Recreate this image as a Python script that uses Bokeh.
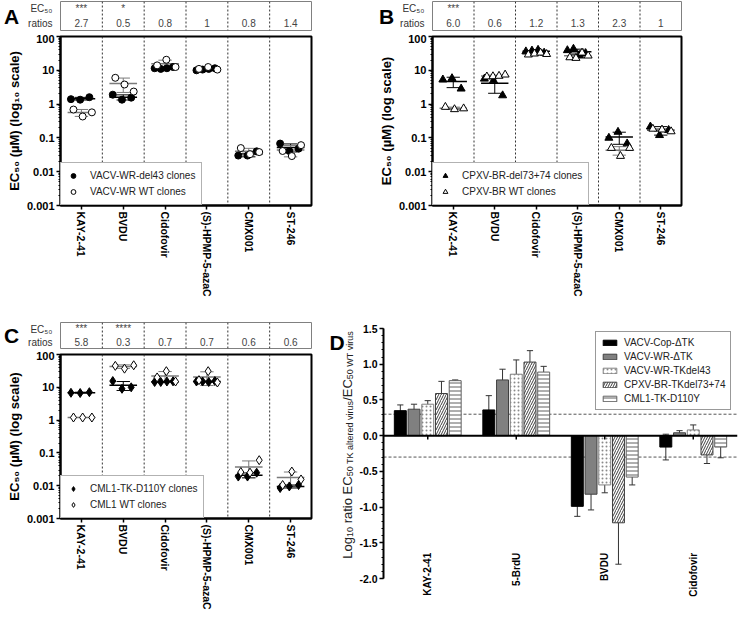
import numpy as np
from bokeh.plotting import figure
from bokeh.models import (Range1d, FactorRange, FixedTicker, NumeralTickFormatter,
                          SingleIntervalTicker, Span, Legend, LegendItem,
                          ColumnDataSource)
from bokeh.layouts import row, column
from bokeh.transform import dodge
from bokeh.core.properties import value
from bokeh.embed import file_html
from bokeh.resources import INLINE

FONT = "Liberation Sans"

# ---------------- data ----------------
drugs = ["KAY-2-41", "BVDU", "Cidofovir", "(S)-HPMP-5-azaC", "CMX001", "ST-246"]
ratio_rows = ["ratios", "EC₅₀"]

A_ratios = ["2.7", "0.5", "0.8", "1", "0.8", "1.4"]
A_stars = ["***", "*", "", "", "", ""]
A_mut = [[1.4, 1.35, 1.6], [1.9, 1.35, 1.55], [11.5, 11.0, 11.5, 12.5],
         [10.0, 10.5, 11.0, 11.5], [0.030, 0.030, 0.040], [0.068, 0.041, 0.048]]
A_wt = [[0.69, 0.43, 0.57], [6.0, 3.8, 2.35], [14.0, 20.5, 12.5],
        [11.0, 12.5, 10.5], [0.050, 0.033, 0.038], [0.041, 0.029, 0.061]]

B_ratios = ["6.0", "0.6", "1.2", "1.3", "2.3", "1"]
B_stars = ["***", "", "", "", "", ""]
B_mut = [[5.3, 5.8, 2.85], [5.6, 5.0, 1.8], [36, 38, 40, 33],
         [39, 43, 28, 32], [0.10, 0.15, 0.068], [0.215, 0.12, 0.17]]
B_wt = [[0.82, 0.70, 0.74], [6.5, 6.6, 6.8, 7.4], [29, 31, 33, 30],
        [24, 23, 33, 27], [0.050, 0.029, 0.050], [0.185, 0.175, 0.155]]

C_ratios = ["5.8", "0.3", "0.7", "0.7", "0.6", "0.6"]
C_stars = ["***", "****", "", "", "", ""]
C_mut = [[6.8, 6.7, 7.1], [15.5, 9.0, 10.0], [14.5, 14.5, 15.0, 15.2],
         [15.0, 15.0, 14.5, 15.5], [0.019, 0.019, 0.025], [0.0085, 0.0095, 0.0105]]
C_wt = [[1.2, 1.2, 1.2], [45, 37, 47], [20, 31, 15],
        [16.5, 31, 14], [0.026, 0.025, 0.060], [0.0105, 0.027, 0.0155]]

D_cats = ["KAY-2-41", "5-BrdU", "BVDU", "Cidofovir"]
D_names = ["VACV-Cop-ΔTK", "VACV-WR-ΔTK", "VACV-WR-TKdel43",
           "CPXV-BR-TKdel73+74", "CML1-TK-D110Y"]
D_cop = [0.35, 0.36, -0.99, -0.16]
D_cop_err = [0.08, 0.20, 0.14, 0.18]
D_wr = [0.37, 0.78, -0.82, 0.04]
D_wr_err = [0.07, 0.15, 0.22, 0.03]
D_del43 = [0.44, 0.86, -0.69, 0.08]
D_del43_err = [0.05, 0.20, 0.11, 0.07]
D_cpxv = [0.59, 1.03, -1.22, -0.27]
D_cpxv_err = [0.17, 0.16, 0.58, 0.12]
D_cml = [0.77, 0.89, -0.58, -0.16]
D_cml_err = [0.01, 0.08, 0.11, 0.15]


# ---------------- helpers ----------------
def base_style(p):
    p.xgrid.visible = False
    p.ygrid.visible = False
    p.background_fill_color = "white"
    p.border_fill_color = "white"


def ratio_panel(width, height, bl, br, bt, bb, ratios, stars, letter, letter_standoff):
    p = figure(width=width, height=height, x_range=FactorRange(*drugs),
               y_range=FactorRange(*ratio_rows), x_axis_location=None,
               output_backend="svg", toolbar_location=None,
               min_border_left=bl, min_border_right=br,
               min_border_top=bt, min_border_bottom=bb)
    base_style(p)
    p.outline_line_color = "#808080"
    p.outline_line_width = 1
    for i in range(1, len(drugs)):
        p.add_layout(Span(location=i, dimension="height", line_color="#333333",
                          line_width=1, line_dash="2 2"))
    p.text(x=drugs, y=[("EC₅₀", 0.05)] * len(drugs), text=stars, text_font=value(FONT),
           text_font_size="10px", text_align="center", text_baseline="middle",
           text_color="#444444")
    p.text(x=drugs, y=["ratios"] * len(drugs), text=ratios, text_font=value(FONT),
           text_font_size="10px", text_align="center", text_baseline="middle",
           text_color="#444444")
    yax = p.yaxis[0]
    yax.axis_line_color = None
    yax.major_tick_line_color = None
    yax.minor_tick_line_color = None
    yax.major_label_standoff = 2
    yax.major_label_text_font = FONT
    yax.major_label_text_font_size = "10px"
    yax.major_label_text_color = "#333333"
    yax.axis_label = letter
    yax.axis_label_orientation = "horizontal"
    yax.axis_label_standoff = letter_standoff
    yax.axis_label_text_font = FONT
    yax.axis_label_text_font_size = "21px"
    yax.axis_label_text_font_style = "bold"
    yax.axis_label_text_color = "black"
    return p


def main_panel(width, height, bl, br, bt, bb, mut, wt, marker, msize,
               mut_name, wt_name, ylabel):
    p = figure(width=width, height=height, x_range=FactorRange(*drugs),
               y_range=Range1d(0.001, 100), y_axis_type="log",
               output_backend="svg", toolbar_location=None,
               min_border_left=bl, min_border_right=br,
               min_border_top=bt, min_border_bottom=bb)
    base_style(p)
    p.outline_line_color = "black"
    p.outline_line_width = 2
    for i in range(1, len(drugs)):
        p.add_layout(Span(location=i, dimension="height", line_color="#333333",
                          line_width=1, line_dash="2 2", level="underlay"))
    # mean +/- SD
    for vals, lc in ((mut, "black"), (wt, "#7a7a7a")):
        means = [float(np.mean(v)) for v in vals]
        sds = [float(np.std(v, ddof=1)) for v in vals]
        lo = [max(m - s, 0.0011) for m, s in zip(means, sds)]
        hi = [m + s for m, s in zip(means, sds)]
        p.segment(x0=[(d, -0.33) for d in drugs], x1=[(d, 0.33) for d in drugs],
                  y0=means, y1=means, line_color=lc, line_width=1.5)
        p.segment(x0=[(d, 0.0) for d in drugs], x1=[(d, 0.0) for d in drugs],
                  y0=lo, y1=hi, line_color=lc, line_width=1)
        for ends in (lo, hi):
            p.segment(x0=[(d, -0.16) for d in drugs], x1=[(d, 0.16) for d in drugs],
                      y0=ends, y1=ends, line_color=lc, line_width=1)
    rends = []
    for vals, filled, shift in ((mut, True, -0.03), (wt, False, 0.03)):
        xs, ys = [], []
        for d, v in zip(drugs, vals):
            n = len(v)
            step = 0.44 / (n - 1) if n > 1 else 0
            for k, val in enumerate(v):
                xs.append((d, -0.22 + k * step + shift))
                ys.append(val)
        r = p.scatter(x=xs, y=ys, marker=marker, size=msize,
                      fill_color="black" if filled else "white",
                      line_color="black", line_width=1)
        rends.append(r)
    leg = Legend(items=[LegendItem(label=mut_name, renderers=[rends[0]]),
                        LegendItem(label=wt_name, renderers=[rends[1]])],
                 location="bottom_left", margin=0, padding=6,
                 glyph_width=12, glyph_height=13, label_height=13, spacing=3,
                 label_standoff=11, label_text_font=FONT, label_text_font_size="10px",
                 label_text_color="#222222", border_line_color="#666666",
                 border_line_width=1, background_fill_alpha=1.0)
    p.add_layout(leg)

    yax = p.yaxis[0]
    minor = [m * 10.0 ** e for e in range(-3, 2) for m in range(2, 10)]
    yax.ticker = FixedTicker(ticks=[0.001, 0.01, 0.1, 1, 10, 100], minor_ticks=minor)
    yax.formatter = NumeralTickFormatter(format="0.[000]")
    yax.axis_line_width = 2
    yax.major_tick_line_width = 1.5
    yax.major_tick_out = 4
    yax.major_tick_in = 0
    yax.minor_tick_out = 2
    yax.minor_tick_in = 0
    yax.major_label_standoff = 2
    yax.major_label_text_font = FONT
    yax.major_label_text_font_size = "11px"
    yax.major_label_text_font_style = "bold"
    yax.major_label_text_color = "black"
    yax.axis_label = ylabel
    yax.axis_label_standoff = 2
    yax.axis_label_text_font = FONT
    yax.axis_label_text_font_size = "13px"
    yax.axis_label_text_font_style = "bold"
    yax.axis_label_text_color = "black"

    xax = p.xaxis[0]
    xax.major_label_orientation = "vertical"
    xax.axis_line_width = 2
    xax.major_tick_line_width = 1.5
    xax.major_tick_out = 4
    xax.major_tick_in = 0
    xax.major_label_standoff = 2
    xax.major_label_text_font = FONT
    xax.major_label_text_font_size = "10.5px"
    xax.major_label_text_font_style = "bold"
    xax.major_label_text_color = "black"
    return p


# ---------------- panels A, B, C ----------------
Ar = ratio_panel(375, 34, 53, 64, 1, 4, A_ratios, A_stars, "A", 6)
Am = main_panel(375, 266, 53, 64, 2, 95, A_mut, A_wt, "circle", 7,
                "VACV-WR-del43 clones", "VACV-WR WT clones",
                "EC₅₀ (µM) (log₁₀ scale)")

Br = ratio_panel(363, 34, 49, 57, 1, 4, B_ratios, B_stars, "B", 3)
Bm = main_panel(363, 266, 49, 57, 2, 95, B_mut, B_wt, "triangle", 8,
                "CPXV-BR-del73+74 clones", "CPXV-BR WT clones",
                "EC₅₀ (µM) (log scale)")

CW = 318
Cr = ratio_panel(CW, 51, 53, CW - 53 - 258, 22, 3, C_ratios, C_stars, "C", 6)
Cm = main_panel(CW, 263, 53, CW - 53 - 258, 3, 96, C_mut, C_wt, "diamond", 9,
                "CML1-TK-D110Y clones", "CML1 WT clones",
                "EC₅₀ (µM) (log scale)")

# ---------------- panel D ----------------
DW, DH, DBL, DBR, DBT, DBB = 382, 314, 24, 1, 28, 11
D_ymin, D_ymax = -2.35, 1.5
pD = figure(width=DW, height=DH, x_range=FactorRange(*D_cats),
            y_range=Range1d(D_ymin, D_ymax), x_axis_location=None,
            output_backend="svg", toolbar_location=None,
            min_border_left=DBL, min_border_right=DBR,
            min_border_top=DBT, min_border_bottom=DBB)
base_style(pD)
pD.outline_line_color = None
pxu_D = (DH - DBT - DBB) / (D_ymax - D_ymin)

for loc in (0.3, -0.3):
    pD.add_layout(Span(location=loc, dimension="width", line_color="#555555",
                       line_width=1, line_dash="3 2", level="underlay"))

D_series = [(D_cop, D_cop_err), (D_wr, D_wr_err), (D_del43, D_del43_err),
            (D_cpxv, D_cpxv_err), (D_cml, D_cml_err)]
D_styles = [
    dict(fill_color="black", line_color="black"),
    dict(fill_color="#808080", line_color="#404040"),
    dict(fill_color="white", line_color="#808080", hatch_pattern=".",
         hatch_color="#8a8a8a", hatch_scale=4, hatch_weight=1),
    dict(fill_color="white", line_color="#404040", hatch_pattern="/",
         hatch_color="#404040", hatch_scale=5, hatch_weight=1),
    dict(fill_color="white", line_color="#606060", hatch_pattern="-",
         hatch_color="#606060", hatch_scale=4, hatch_weight=1),
]
bar_rends = []
for k, ((vals, errs), sty) in enumerate(zip(D_series, D_styles)):
    off = (k - 2) * 0.155
    src = ColumnDataSource(dict(cat=D_cats, top=vals,
                                lo=[v - e for v, e in zip(vals, errs)],
                                hi=[v + e for v, e in zip(vals, errs)]))
    pD.segment(x0=dodge("cat", off, range=pD.x_range), x1=dodge("cat", off, range=pD.x_range),
               y0="lo", y1="hi", source=src, line_color="#333333", line_width=1)
    for end in ("lo", "hi"):
        pD.segment(x0=dodge("cat", off - 0.035, range=pD.x_range),
                   x1=dodge("cat", off + 0.035, range=pD.x_range),
                   y0=end, y1=end, source=src, line_color="#333333", line_width=1)
    r = pD.vbar(x=dodge("cat", off, range=pD.x_range), top="top", bottom=0,
                width=0.135, source=src, line_width=1, **sty)
    bar_rends.append(r)

pD.add_layout(Span(location=0, dimension="width", line_color="black", line_width=2))
pD.segment(x0=D_cats, x1=D_cats, y0=0, y1=-0.055, line_color="black", line_width=1.5)
pD.text(x=D_cats, y=-1.64, text=D_cats, angle=np.pi / 2, text_align="right",
        text_baseline="middle", text_font=value(FONT), text_font_size="10px",
        text_font_style="bold", text_color="black")

legD = Legend(items=[LegendItem(label=n, renderers=[r]) for n, r in zip(D_names, bar_rends)],
              location=(212, 193), margin=0, padding=5, glyph_width=17, glyph_height=7,
              label_height=11, spacing=3, label_standoff=6, label_text_font=FONT,
              label_text_font_size="10px", label_text_color="#222222",
              border_line_color="#333333", border_line_width=1)
pD.add_layout(legD)

yD = pD.yaxis[0]
yD.ticker = SingleIntervalTicker(interval=0.5, num_minor_ticks=5)
yD.formatter = NumeralTickFormatter(format="0.0")
yD.bounds = (-2.0, 1.5)
yD.axis_line_width = 2
yD.major_tick_line_width = 1.5
yD.major_tick_out = 4
yD.major_tick_in = 0
yD.minor_tick_out = 2
yD.minor_tick_in = 0
yD.major_label_standoff = 2
yD.major_label_text_font = FONT
yD.major_label_text_font_size = "10.5px"
yD.major_label_text_font_style = "bold"
yD.major_label_text_color = "black"

# left strip of panel D: letter and y-axis title (normal text + subscripts)
DLW = 738 - CW - DW
pDL = figure(width=DLW, height=DH, x_range=Range1d(0, DLW), y_range=pD.y_range,
             x_axis_location=None, y_axis_location=None,
             output_backend="svg", toolbar_location=None,
             min_border_left=0, min_border_right=0,
             min_border_top=DBT, min_border_bottom=DBB)
base_style(pDL)
pDL.outline_line_color = None
title_parts = [("Log", 13, 558.0, False), ("10", 9, 536.3, True),
               ("ratio EC", 13, 522.7, False), ("50 TK altered virus", 9, 475.7, True),
               ("/EC", 13, 400.2, False), ("50 WT virus", 9, 378.5, True)]
for txt, fs, ypx, sub in title_parts:
    pDL.text(x=[DLW - 6.5 if sub else DLW - 9.0], y=[(435.0 - ypx) / pxu_D], text=[txt],
             angle=np.pi / 2, text_align="left", text_baseline="alphabetic",
             text_font=value(FONT), text_font_size=f"{fs}px", text_color="#222222")
pDL.text(x=[DLW - 27.0], y=[D_ymax - 2 / pxu_D], text=["D"], text_align="left",
         text_baseline="top", text_font=value(FONT), text_font_size="21px",
         text_font_style="bold", text_color="black")

layout = column(row(column(Ar, Am), column(Br, Bm)),
                row(column(Cr, Cm), pDL, pD))

open("out.html", "w").write(file_html(layout, INLINE))
